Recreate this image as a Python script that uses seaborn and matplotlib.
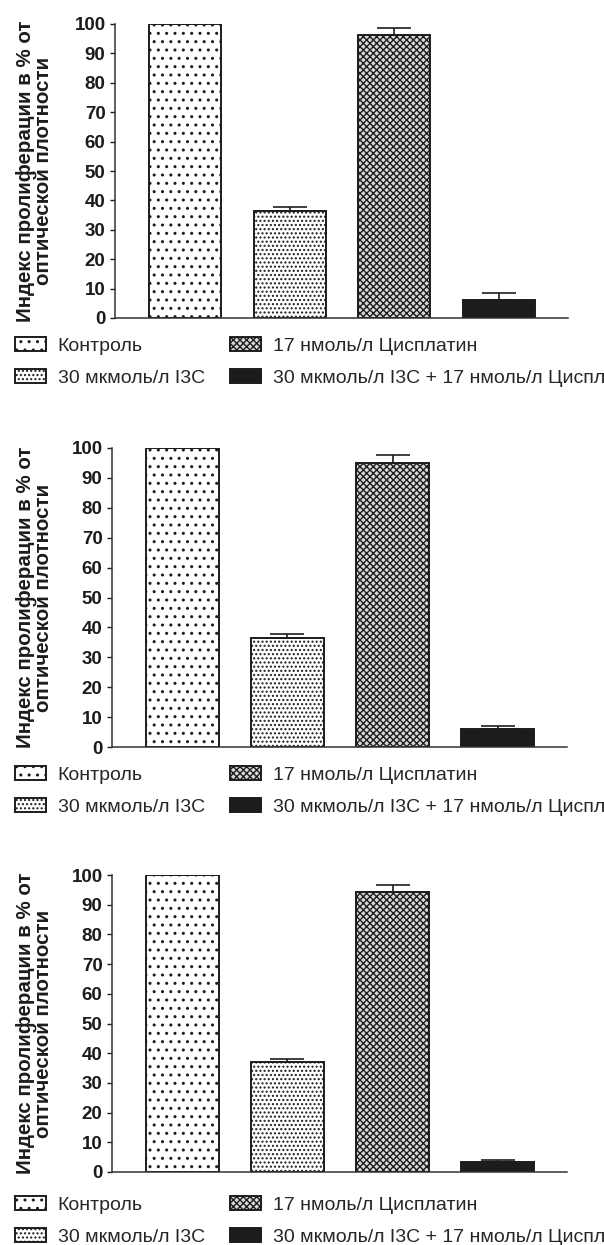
import matplotlib
matplotlib.use("Agg")
import matplotlib.pyplot as plt
import seaborn as sns

# Группы (одинаковые для всех трёх панелей)
groups = ["Контроль", "30 мкмоль/л I3C", "17 нмоль/л Цисплатин",
          "30 мкмоль/л I3C + 17 нмоль/л Цисплатин"]

# Значения индекса пролиферации, %
vals1 = [100, 36.5, 96.3, 6.1]
errs1 = [0, 1.1, 2.5, 2.4]
vals2 = [100, 36.6, 95.1, 5.9]
errs2 = [0, 1.2, 2.6, 1.1]
vals3 = [100, 36.9, 94.3, 3.4]
errs3 = [0, 1.0, 2.3, 0.8]

yticks = [0, 10, 20, 30, 40, 50, 60, 70, 80, 90, 100]

sns.set_style("ticks")
plt.rcParams["font.family"] = ["Liberation Sans", "DejaVu Sans"]
plt.rcParams["hatch.linewidth"] = 1.0

W, H = 604, 1245
fig = plt.figure(figsize=(W / 100, H / 100), dpi=100)

ink = "#1c1c1c"
hatches = ["..", "....", "xxxxx", None]
faces = ["white", "white", "#d8d8d8", ink]

# пиксельные рамки осей: (лево, право, верх, низ) и верх легенды
boxes = [(115, 568, 24, 318, 337),
         (112, 567, 448, 747, 766),
         (112, 567, 875, 1172, 1196)]


def panel(box, vals, errs):
    l, r, t, b, leg_top = box
    ax = fig.add_axes([l / W, 1 - b / H, (r - l) / W, (b - t) / H])
    sns.barplot(x=groups, y=vals, ax=ax, width=0.69, color="white",
                saturation=1, edgecolor=ink, linewidth=1.4, errorbar=None)
    for p, h, fc in zip(ax.patches, hatches, faces):
        p.set_facecolor(fc)
        p.set_edgecolor(ink)
        if h:
            p.set_hatch(h)
    # только верхняя половина планки погрешности
    ax.errorbar(range(len(vals)), vals, yerr=[[0] * len(vals), errs],
                fmt="none", ecolor=ink, elinewidth=1.2, capsize=12.5,
                capthick=1.2, zorder=1)

    ax.set_xlim(-0.67, 3.66)
    ax.set_ylim(0, 100)
    ax.set_yticks(yticks)
    ax.set_xticks([])
    ax.tick_params(axis="y", length=3.6, width=1.0, pad=3.2,
                   labelsize=13.5, colors=ink)
    for lab in ax.get_yticklabels():
        lab.set_fontweight("bold")
    sns.despine(ax=ax)
    for s in ("left", "bottom"):
        ax.spines[s].set_linewidth(1.1)
        ax.spines[s].set_color("#333333")

    ax.set_ylabel("Индекс пролиферации в % от\nоптической плотности",
                  fontsize=14.8, fontweight="bold", linespacing=0.95,
                  color=ink)
    ax.yaxis.set_label_coords((53 - l) / (r - l), 0.5)

    ax.legend(ax.patches, groups, ncol=2, loc="upper left",
              bbox_to_anchor=(15 / W, 1 - leg_top / H),
              bbox_transform=fig.transFigure, frameon=False,
              fontsize=14.0, handlelength=1.6, handleheight=0.74,
              handletextpad=0.6, columnspacing=1.3, labelspacing=0.74,
              borderpad=0, borderaxespad=0)
    return ax


panel(boxes[0], vals1, errs1)
panel(boxes[1], vals2, errs2)
panel(boxes[2], vals3, errs3)

fig.savefig("out.png", dpi=100)
